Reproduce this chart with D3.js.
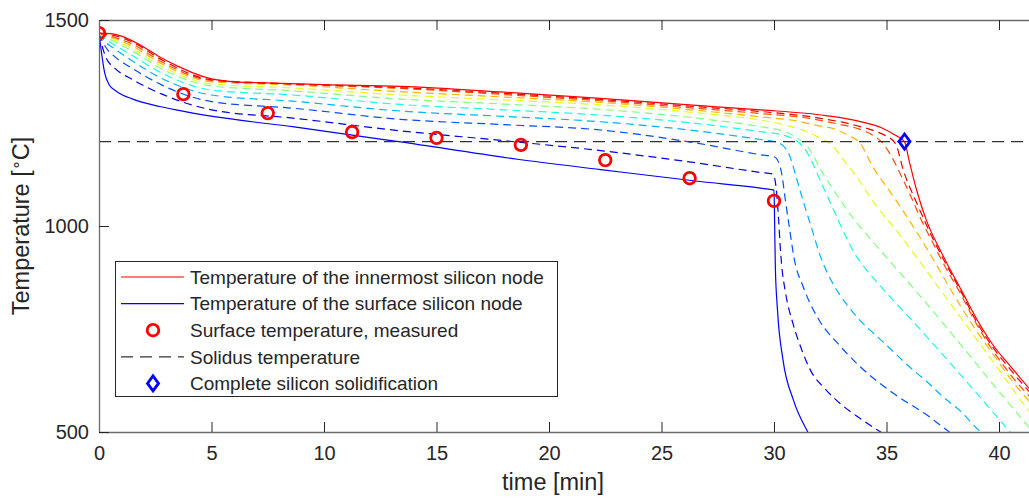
<!DOCTYPE html>
<html>
<head>
<meta charset="utf-8">
<script src="https://cdn.jsdelivr.net/npm/d3@7"></script>
<style>
  body { margin: 0; background: #fff; }
  text { font-family: "Liberation Sans", Arial, Helvetica, sans-serif; fill: #262626; }
</style>
</head>
<body>
<div id="chart"></div>
<script>
// [time in min, temperature in °C] for each silicon node, surface -> centre
var surfaceNode = [[0,1468],[0.1,1425],[0.25,1372],[0.45,1343],[0.8,1326],[1.5,1308],[2.7,1290],[4,1276],[5.7,1261],[8.6,1241],[13.4,1204],[18.6,1162],[22.3,1137],[26.7,1108],[29.4,1092],[30,1087],[30.03,1000],[30.06,900],[30.15,800],[30.4,675],[30.86,578],[31.5,500],[31.8,470]];
var node2 = [[0,1468],[0.1,1445],[0.3,1410],[0.7,1383],[1.5,1355],[2.8,1320],[5,1282],[8.6,1262],[13.4,1231],[18,1207],[22.3,1183],[26.7,1152],[29.4,1130],[29.95,1126],[30.05,1110],[30.12,1080],[30.2,1020],[30.27,955],[30.34,905],[30.5,842],[30.86,760],[31.23,700],[31.6,652],[32.3,603],[33.1,562],[33.8,534],[34.4,512],[34.8,498]];
var node3 = [[0,1468],[0.1,1455],[0.3,1434],[0.7,1411],[1.5,1382],[2.8,1342],[5,1302],[8.6,1286],[13.4,1259],[18,1246],[22.3,1233],[26.7,1200],[29.4,1173],[30,1168],[30.2,1155],[30.35,1125],[30.5,1065],[30.7,990],[30.9,920],[31.3,852],[32,772],[32.9,711],[33.8,660],[35.3,594],[36.8,541],[37.5,512],[37.8,500]];
var node4 = [[0,1468],[0.1,1460],[0.3,1446],[0.7,1430],[1.5,1400],[2.8,1358],[5,1318],[8.6,1303],[13.4,1279],[18,1266],[22.3,1253],[26.7,1230],[29.4,1210],[30,1205],[30.4,1195],[30.7,1170],[31,1116],[31.3,1060],[31.67,995],[32.04,930],[32.6,862],[33.2,812],[33.8,772],[34.6,731],[35.3,695],[36,659],[36.8,622],[37.5,586],[38.3,550],[39.2,500],[39.5,490]];
var node5 = [[0,1468],[0.1,1462],[0.3,1453],[0.7,1439],[1.5,1413],[2.8,1371],[5,1330],[8.6,1318],[13.4,1295],[18,1282],[22.3,1269],[26.7,1248],[29.4,1229],[30.3,1222],[30.9,1210],[31.3,1192],[31.7,1155],[32.1,1105],[32.6,1045],[33.1,985],[33.6,932],[34.2,888],[34.86,846],[35.5,808],[36.2,767],[37.4,694],[38.4,632],[39.45,566],[40.5,500],[40.8,482]];
var node6 = [[0,1468],[0.1,1464],[0.3,1458],[0.7,1447],[1.5,1424],[2.8,1381],[5,1340],[8.6,1328],[13.4,1308],[18,1296],[22.3,1283],[26.7,1261],[29.4,1241],[30.3,1232],[30.9,1218],[31.5,1192],[32.2,1125],[32.8,1075],[33.5,1020],[34.3,968],[35.3,905],[36.5,830],[37.7,752],[38.9,672],[40.05,595],[41.23,518],[41.5,500]];
var node7 = [[0,1468],[0.1,1465],[0.3,1461],[0.7,1451],[1.5,1430],[2.8,1387],[5,1345],[8.6,1335],[13.4,1318],[18,1306],[22.3,1294],[26.7,1274],[29.4,1257],[30.5,1245],[31.3,1232],[32,1215],[32.6,1195],[33.1,1160],[33.6,1125],[34.5,1052],[35.5,985],[36.5,912],[37.7,822],[38.9,733],[40.05,647],[41.23,558],[41.5,540]];
var node8 = [[0,1468],[0.1,1466],[0.3,1463],[0.7,1455],[1.5,1436],[2.8,1393],[5,1350],[8.6,1342],[13.4,1326],[18,1313],[22.3,1300],[26.7,1280],[29.4,1265],[31,1255],[32,1243],[32.6,1237],[33.3,1220],[33.8,1203],[34.4,1143],[35.2,1080],[35.7,1040],[36.4,980],[37.1,917],[37.7,860],[38.27,808],[39,745],[39.75,688],[40.5,630],[41.5,565]];
var node9 = [[0,1468],[0.1,1467],[0.3,1465],[0.7,1458],[1.5,1441],[2.8,1398],[5,1353],[8.6,1344],[13.4,1334],[18,1319],[22.3,1304],[26.7,1285],[29.4,1273],[31.5,1262],[32.8,1248],[33.8,1235],[34.4,1220],[34.8,1203],[35.1,1180],[35.8,1105],[36.1,1070],[36.5,1020],[37.1,955],[37.45,917],[38.3,835],[39,762],[39.75,696],[40.5,640],[41.5,578]];
var node10 = [[0,1468],[0.1,1467],[0.3,1466],[0.7,1462],[1.5,1446],[2.8,1403],[5,1355],[8.6,1345],[13.4,1336],[18,1322],[22.3,1307],[26.7,1289],[29.4,1278],[32,1262],[33.5,1246],[34.5,1230],[35,1218],[35.4,1200],[35.75,1135],[36.35,1055],[37.1,965],[37.6,912],[38.3,842],[39,768],[39.75,704],[40.5,652],[41.5,588]];
var innermostNode = [[0,1468],[0.5,1467],[1,1461],[2,1434],[2.7,1410],[3.5,1388],[4.2,1371],[5,1357],[6,1350],[7,1348],[10,1343],[13.4,1339],[18,1325],[22.3,1310],[26.7,1292],[29.4,1282],[32.3,1268],[33.8,1254],[34.8,1238],[35.4,1220],[35.8,1205],[36,1160],[36.35,1085],[36.8,1010],[37.4,940],[37.7,908],[38.3,847],[39,775],[39.75,710],[40.5,660],[41.5,595]];

var measuredTime = [0, 3.75, 7.5, 11.25, 15, 18.75, 22.5, 26.25, 30];
var measuredTemp = [1468, 1320, 1274, 1228, 1214, 1197, 1160, 1116, 1061];

var solidusTemp = 1205;
var solidificationTime = 35.8;

var xTicks = [0, 5, 10, 15, 20, 25, 30, 35, 40];
var yTicks = [500, 1000, 1500];

var legendLabels = [
  "Temperature of the innermost silicon node",
  "Temperature of the surface silicon node",
  "Surface temperature, measured",
  "Solidus temperature",
  "Complete silicon solidification"
];

var interiorNodes = [node2, node3, node4, node5, node6, node7, node8, node9, node10];

// matlab jet colormap
function jet(t) {
  function c(v) { return Math.round(255 * Math.max(0, Math.min(1, v))); }
  var r = Math.min(4 * t - 1.5, -4 * t + 4.5),
      g = Math.min(4 * t - 0.5, -4 * t + 3.5),
      b = Math.min(4 * t + 0.5, -4 * t + 2.5);
  return "rgb(" + c(r) + "," + c(g) + "," + c(b) + ")";
}

var svg = d3.select("#chart").append("svg").attr("width", 1029).attr("height", 498),
    margin = {top: 20, left: 99, bottom: 66},
    height = 498 - margin.top - margin.bottom;

var x = d3.scaleLinear().domain([0, 45]).range([margin.left, margin.left + 45 * 22.5]);
var y = d3.scaleLinear().domain([500, 1500]).range([margin.top + height, margin.top]);

svg.append("clipPath").attr("id", "plotclip")
  .append("rect").attr("x", x(0)).attr("y", y(1500)).attr("width", x(45) - x(0)).attr("height", y(500) - y(1500));

var plot = svg.append("g").attr("clip-path", "url(#plotclip)");

var line = d3.line()
  .x(function(d) { return x(d[0]); })
  .y(function(d) { return y(d[1]); })
  .curve(d3.curveMonotoneX);

plot.selectAll(".inner")
  .data(interiorNodes)
  .enter().append("path")
  .attr("class", "inner")
  .attr("d", line)
  .attr("fill", "none")
  .attr("stroke", function(d, i) { return jet((i + 1) / 10); })
  .attr("stroke-width", 1.2)
  .attr("stroke-dasharray", "8,5");

plot.append("path").datum(surfaceNode).attr("d", line)
  .attr("fill", "none").attr("stroke", "#0000ff").attr("stroke-width", 1.2);
plot.append("path").datum(innermostNode).attr("d", line)
  .attr("fill", "none").attr("stroke", "#ff0000").attr("stroke-width", 1.2);

plot.append("line")
  .attr("x1", x(0)).attr("x2", x(45))
  .attr("y1", y(solidusTemp)).attr("y2", y(solidusTemp))
  .attr("stroke", "#333").attr("stroke-width", 1.3).attr("stroke-dasharray", "12,7");

plot.selectAll(".meas")
  .data(measuredTime)
  .enter().append("circle")
  .attr("class", "meas")
  .attr("cx", function(d) { return x(d); })
  .attr("cy", function(d, i) { return y(measuredTemp[i]); })
  .attr("r", 5.8)
  .attr("fill", "none").attr("stroke", "#ff0000").attr("stroke-width", 2.8);

function diamond(g, cx, cy) {
  g.append("path")
    .attr("d", "M" + cx + "," + (cy - 7.5) + "L" + (cx + 5.5) + "," + cy + "L" + cx + "," + (cy + 7.5) + "L" + (cx - 5.5) + "," + cy + "Z")
    .attr("fill", "none").attr("stroke", "#0000ff").attr("stroke-width", 2.8);
}
diamond(svg, x(solidificationTime), y(solidusTemp));

// axes, matlab style box with inward ticks
var axisColor = "#6b6b6b";
var gx = svg.append("g").attr("transform", "translate(0," + y(500) + ")")
  .call(d3.axisBottom(x).tickValues(xTicks).tickSizeInner(-10).tickSizeOuter(0).tickPadding(14));
var gt = svg.append("g").attr("transform", "translate(0," + y(1500) + ")")
  .call(d3.axisTop(x).tickValues(xTicks).tickSizeInner(-10).tickSizeOuter(0).tickFormat(""));
var gy = svg.append("g").attr("transform", "translate(" + x(0) + ",0)")
  .call(d3.axisLeft(y).tickValues(yTicks).tickFormat(d3.format("d")).tickSizeInner(-10).tickSizeOuter(0).tickPadding(10));

[gx, gt, gy].forEach(function(g) {
  g.select(".domain").attr("stroke", axisColor).attr("stroke-width", 1.3);
  g.selectAll(".tick line").attr("stroke", "#262626").attr("stroke-width", 1);
  g.selectAll(".tick text").attr("font-size", 20).attr("fill", "#262626");
});

svg.append("text")
  .attr("x", 553).attr("y", 490)
  .attr("text-anchor", "middle")
  .attr("font-size", 23.5)
  .text("time [min]");

var ylab = svg.append("text")
  .attr("transform", "translate(29," + y(1000) + ") rotate(-90)")
  .attr("text-anchor", "middle")
  .attr("font-size", 23.5);
ylab.append("tspan").text("Temperature [");
ylab.append("tspan").attr("font-size", 16).attr("dy", -7).text("\u2218");
ylab.append("tspan").attr("dy", 7).text("C]");

// legend
var leg = svg.append("g");
leg.append("rect")
  .attr("x", 115.5).attr("y", 261.5).attr("width", 442).attr("height", 135)
  .attr("fill", "#fff").attr("stroke", "#262626").attr("stroke-width", 1);

var rowY = function(i) { return 277 + i * 26.6; };

leg.append("line").attr("x1", 121).attr("x2", 184).attr("y1", rowY(0)).attr("y2", rowY(0))
  .attr("stroke", "#ff0000").attr("stroke-width", 1.2);
leg.append("line").attr("x1", 121).attr("x2", 184).attr("y1", rowY(1)).attr("y2", rowY(1))
  .attr("stroke", "#0000ff").attr("stroke-width", 1.2);
leg.append("circle").attr("cx", 153).attr("cy", rowY(2)).attr("r", 5.8)
  .attr("fill", "none").attr("stroke", "#ff0000").attr("stroke-width", 2.8);
leg.append("line").attr("x1", 121).attr("x2", 184).attr("y1", rowY(3)).attr("y2", rowY(3))
  .attr("stroke", "#333").attr("stroke-width", 1.3).attr("stroke-dasharray", "12,7");
diamond(leg, 153, rowY(4));

leg.selectAll(".legtext")
  .data(legendLabels)
  .enter().append("text")
  .attr("class", "legtext")
  .attr("x", 190)
  .attr("y", function(d, i) { return rowY(i); })
  .attr("dy", "0.36em")
  .attr("font-size", 19)
  .text(function(d) { return d; });
</script>
</body>
</html>
